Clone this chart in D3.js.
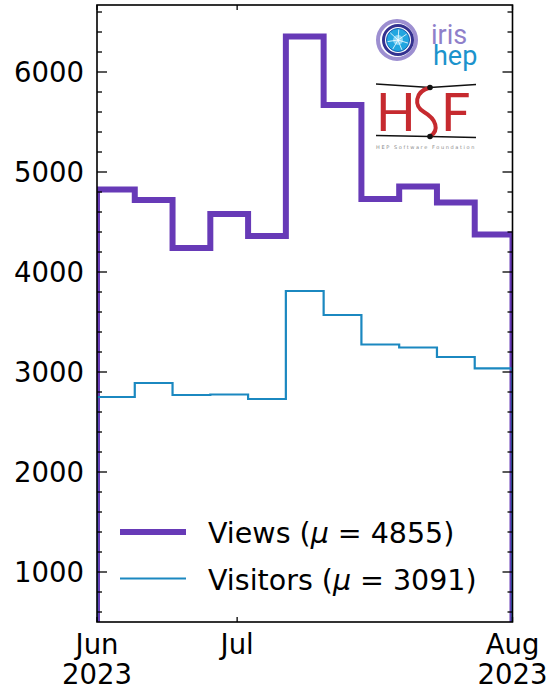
<!DOCTYPE html>
<html>
<head>
<meta charset="utf-8">
<script src="https://cdn.jsdelivr.net/npm/d3@7"></script>
<style>
  html, body { margin: 0; padding: 0; background: #fff; }
  svg { display: block; font-family: "DejaVu Sans", sans-serif; }
</style>
</head>
<body>
<svg id="chart" width="558" height="692"></svg>
<script>
// Weekly page views / visitors, step histogram in mplhep style.

const weeks = d3.range(11);                 // bin index, one bin per week
const views = [4825, 4720, 4240, 4580, 4360, 6355, 5670, 4730, 4855, 4695, 4375];
const visitors = [2750, 2890, 2770, 2775, 2730, 3810, 3570, 3275, 3245, 3150, 3036];
const seriesNames = ["Views", "Visitors"];
const yTicks = [1000, 2000, 3000, 4000, 5000, 6000];
const monthTickPos = [0, 3.71, 11];         // in bin units
const monthTickLabels = [["Jun", "2023"], ["Jul"], ["Aug", "2023"]];

const COLORS = { Views: "#673ab7", Visitors: "#1b88c0" };
const WIDTHS = { Views: 6, Visitors: 2.2 };
const FS = 27.5;

const svg = d3.select("#chart");
const m = { left: 97, right: 512.5, top: 5, bottom: 622 };

const x = d3.scaleLinear().domain([0, weeks.length]).range([m.left, m.right]);
const y = d3.scaleLinear().domain([500, 6670]).range([m.bottom, m.top]);

svg.append("defs").append("clipPath").attr("id", "plot-clip")
  .append("rect")
  .attr("x", m.left).attr("y", m.top)
  .attr("width", m.right - m.left).attr("height", m.bottom - m.top);

// ── step lines ───────────────────────────────────────────────────────────

function stepPoints(vals) {
  const pts = [[0, 0]];
  vals.forEach((v, i) => { pts.push([i, v]); pts.push([i + 1, v]); });
  pts.push([vals.length, 0]);
  return pts;
}

const line = d3.line().x(d => x(d[0])).y(d => y(d[1]));
const plot = svg.append("g").attr("clip-path", "url(#plot-clip)");

[views, visitors].forEach((vals, i) => {
  const name = seriesNames[i];
  plot.append("path")
    .attr("d", line(stepPoints(vals)))
    .attr("fill", "none")
    .attr("stroke", COLORS[name])
    .attr("stroke-width", WIDTHS[name])
    .attr("stroke-linejoin", "miter");
});

// ── logos (top right) ────────────────────────────────────────────────────

function drawIrisHep(g) {
  const cx = 397, cy = 40;
  g.append("circle").attr("cx", cx).attr("cy", cy).attr("r", 19)
    .attr("fill", "none").attr("stroke", "#9d8fd1").attr("stroke-width", 4);
  g.append("circle").attr("cx", cx + 1).attr("cy", cy).attr("r", 14.5)
    .attr("fill", "none").attr("stroke", "#34318f").attr("stroke-width", 3);
  g.append("circle").attr("cx", cx + 1).attr("cy", cy).attr("r", 11.5)
    .attr("fill", "#22a6e0").attr("stroke", "#1a5fb4").attr("stroke-width", 1);
  g.append("circle").attr("cx", cx + 1).attr("cy", cy).attr("r", 5)
    .attr("fill", "#7fd3f5");
  d3.range(7).forEach(k => {
    const a = k * Math.PI * 2 / 7 + 0.3;
    g.append("line")
      .attr("x1", cx + 1).attr("y1", cy)
      .attr("x2", cx + 1 + 10.5 * Math.cos(a)).attr("y2", cy + 10.5 * Math.sin(a))
      .attr("stroke", "#fff").attr("stroke-width", 0.8);
  });
  g.append("text").attr("x", 431).attr("y", 44)
    .attr("font-family", "Roboto, sans-serif").attr("font-size", 27)
    .attr("fill", "#8f7fca").text("iris");
  g.append("text").attr("x", 433).attr("y", 65)
    .attr("font-family", "Roboto, sans-serif").attr("font-size", 27)
    .attr("fill", "#1c93cc").text("hep");
}

function drawHsf(g) {
  const red = "#c62a2f";
  g.append("path").attr("d", "M376,84 L430,87.5 L476,84.5")
    .attr("fill", "none").attr("stroke", "#111").attr("stroke-width", 1.3);
  g.append("path").attr("d", "M376,135.5 L430,136.5 L476,137.5")
    .attr("fill", "none").attr("stroke", "#111").attr("stroke-width", 1.3);
  g.append("text").attr("x", 376).attr("y", 131)
    .attr("font-family", "Lato, sans-serif").attr("font-size", 52)
    .attr("fill", red).text("H");
  g.append("text").attr("x", 441).attr("y", 131)
    .attr("font-family", "Lato, sans-serif").attr("font-size", 52)
    .attr("fill", red).text("F");
  g.append("path")
    .attr("d", "M430,87.5 C414,92 414,106 424,112 C436,119 440,130 430,136.5")
    .attr("fill", "none").attr("stroke", red).attr("stroke-width", 4);
  g.append("circle").attr("cx", 430).attr("cy", 87.5).attr("r", 2.8).attr("fill", "#111");
  g.append("circle").attr("cx", 430).attr("cy", 136.5).attr("r", 2.8).attr("fill", "#111");
  g.append("text").attr("x", 426).attr("y", 149).attr("text-anchor", "middle")
    .attr("font-size", 5).attr("letter-spacing", 1.6).attr("fill", "#8a8a8a")
    .text("HEP Software Foundation");
}

const logos = svg.append("g");
drawIrisHep(logos);
drawHsf(logos);

// ── axes: inward ticks on all four sides ─────────────────────────────────

const ax = svg.append("g").attr("stroke", "#000").attr("stroke-width", 1.3);
const minorY = d3.range(600, 6670, 200).filter(v => v % 1000 !== 0);

yTicks.forEach(v => {
  ax.append("line").attr("x1", m.left).attr("x2", m.left + 10).attr("y1", y(v)).attr("y2", y(v));
  ax.append("line").attr("x1", m.right).attr("x2", m.right - 10).attr("y1", y(v)).attr("y2", y(v));
});
minorY.forEach(v => {
  ax.append("line").attr("x1", m.left).attr("x2", m.left + 5).attr("y1", y(v)).attr("y2", y(v));
  ax.append("line").attr("x1", m.right).attr("x2", m.right - 5).attr("y1", y(v)).attr("y2", y(v));
});
monthTickPos.forEach(p => {
  ax.append("line").attr("x1", x(p)).attr("x2", x(p)).attr("y1", m.bottom).attr("y2", m.bottom - 5);
  ax.append("line").attr("x1", x(p)).attr("x2", x(p)).attr("y1", m.top).attr("y2", m.top + 5);
});

svg.append("rect")
  .attr("x", m.left).attr("y", m.top)
  .attr("width", m.right - m.left).attr("height", m.bottom - m.top)
  .attr("fill", "none").attr("stroke", "#000").attr("stroke-width", 1.6);

svg.append("g").selectAll("text").data(yTicks).join("text")
  .attr("x", 84).attr("y", d => y(d)).attr("dy", "0.36em")
  .attr("text-anchor", "end").attr("font-size", FS)
  .text(d => d);

monthTickPos.forEach((p, i) => {
  const t = svg.append("text").attr("text-anchor", "middle").attr("font-size", FS);
  monthTickLabels[i].forEach((s, j) => {
    t.append("tspan").attr("x", x(p)).attr("y", 654 + j * 30).text(s);
  });
});

// ── legend ───────────────────────────────────────────────────────────────

const legend = svg.append("g");
[views, visitors].forEach((vals, i) => {
  const name = seriesNames[i];
  const ly = 532 + i * 46.5;
  legend.append("line")
    .attr("x1", 120).attr("x2", 186).attr("y1", ly).attr("y2", ly)
    .attr("stroke", COLORS[name]).attr("stroke-width", WIDTHS[name]);
  const t = legend.append("text").attr("x", 208).attr("y", ly + 11).attr("font-size", 28.5);
  t.append("tspan").text(name + " (");
  t.append("tspan").attr("font-style", "italic").text("μ");
  t.append("tspan").attr("dx", 9).text("=");
  t.append("tspan").attr("dx", 9).text(Math.round(d3.mean(vals)) + ")");
});
</script>
</body>
</html>
